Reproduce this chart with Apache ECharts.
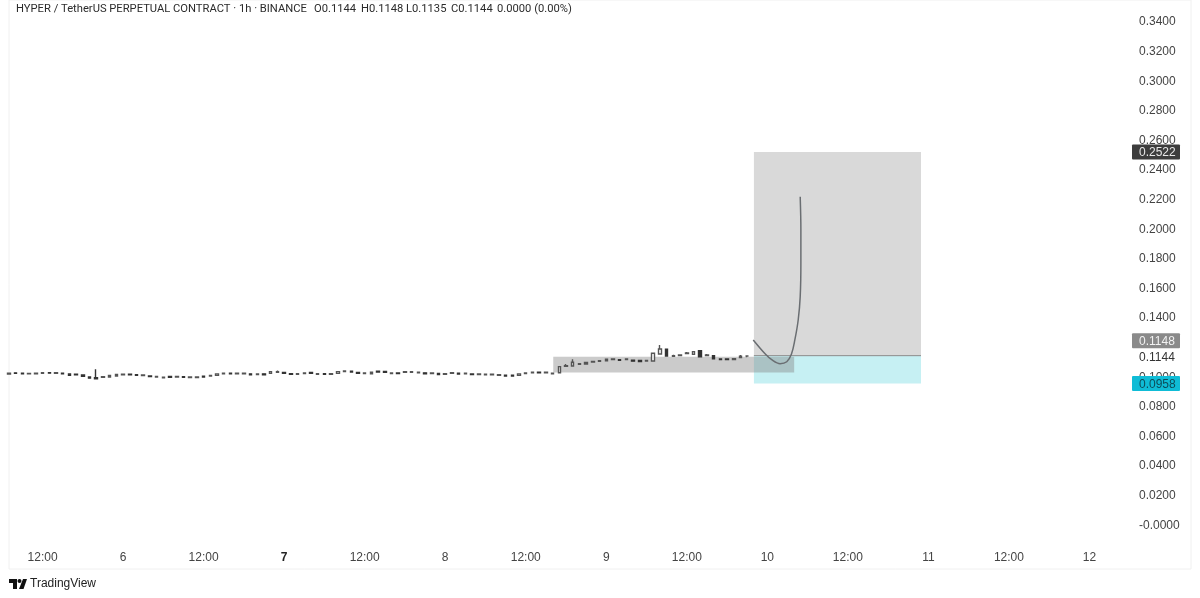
<!DOCTYPE html>
<html><head><meta charset="utf-8">
<style>html,body{margin:0;padding:0;background:#fff}#c{width:1200px;height:598px}</style>
<script src="https://cdn.jsdelivr.net/npm/echarts@6/dist/echarts.min.js"></script>
</head><body><div id="c"></div>
<script>
// hourly candles, first one on the 5th at 07:00
const opens=[.1022,.1030,.1027,.1023,.1023,.1027,.1031,.1027,.1027,.1022,.1020,.1015,.1002,.0997,.1000,.1002,.1009,.1016,.1020,.1018,.1012,.1009,.1002,.0996,.1005,.1002,.1004,.0998,.0998,.1007,.1009,.1013,.1023,.1027,.1023,.1023,.1023,.1018,.1023,.1026,.1034,.1032,.1024,.1020,.1025,.1032,.1020,.1024,.1020,.1026,.1039,.1041,.1032,.1025,.1024,.1041,.1039,.1025,.1029,.1034,.1034,.1030,.1030,.1025,.1025,.1020,.1027,.1028,.1023,.1022,.1018,.1016,.1016,.1014,.1014,.1014,.1013,.1025,.1030,.1034,.1030,.1023,.1031,.1074,.1076,.1088,.1090,.1103,.1108,.1112,.1120,.1119,.1120,.1115,.1113,.1110,.1110,.1157,.1189,.1142,.1147,.1160,.1155,.1180,.1147,.1146,.1124,.1124,.1119,.1134,.1144];
const closes=[.1028,.1027,.1024,.1026,.1027,.1031,.1028,.1031,.1023,.1014,.1016,.1007,.0994,.0989,.1004,.1012,.1019,.1020,.1016,.1014,.1016,.1005,.1006,.1000,.0999,.1006,.1000,.1002,.1002,.1001,.1013,.1023,.1027,.1023,.1027,.1027,.1017,.1022,.1017,.1038,.1038,.1026,.1020,.1024,.1029,.1026,.1024,.1020,.1024,.1038,.1043,.1035,.1026,.1029,.1034,.1035,.1033,.1029,.1025,.1038,.1038,.1034,.1024,.1029,.1019,.1024,.1031,.1022,.1027,.1018,.1022,.1020,.1020,.1018,.1008,.1008,.1023,.1029,.1034,.1030,.1034,.1027,.1072,.1078,.1101,.1092,.1100,.1107,.1112,.1122,.1124,.1115,.1124,.1109,.1107,.1114,.1162,.1191,.1144,.1146,.1151,.1164,.1173,.1139,.1151,.1124,.1120,.1120,.1125,.1143,.1144];
const lows=[.1020,.1026,.1023,.1021,.1022,.1026,.1027,.1026,.1022,.1013,.1015,.1006,.0993,.0988,.0999,.1001,.1008,.1015,.1015,.1013,.1011,.1004,.1001,.0995,.0998,.1001,.0999,.0997,.0997,.1000,.1008,.1012,.1022,.1022,.1022,.1022,.1016,.1017,.1016,.1025,.1033,.1025,.1019,.1019,.1024,.1025,.1019,.1019,.1019,.1025,.1038,.1034,.1025,.1024,.1023,.1034,.1032,.1024,.1024,.1033,.1033,.1029,.1023,.1024,.1018,.1019,.1026,.1021,.1022,.1017,.1017,.1015,.1015,.1013,.1007,.1007,.1012,.1024,.1029,.1029,.1029,.1022,.1030,.1073,.1075,.1087,.1089,.1102,.1107,.1111,.1119,.1114,.1119,.1108,.1106,.1109,.1109,.1156,.1143,.1141,.1146,.1159,.1154,.1138,.1146,.1123,.1119,.1119,.1118,.1133,.1135];
const highs=[.1030,.1031,.1028,.1027,.1028,.1032,.1032,.1032,.1028,.1023,.1021,.1016,.1003,.1054,.1005,.1013,.1020,.1021,.1021,.1019,.1017,.1010,.1007,.1001,.1006,.1007,.1005,.1003,.1006,.1008,.1014,.1024,.1028,.1028,.1028,.1028,.1024,.1023,.1024,.1040,.1045,.1033,.1025,.1025,.1030,.1033,.1025,.1025,.1025,.1039,.1044,.1042,.1033,.1030,.1035,.1042,.1040,.1030,.1030,.1039,.1039,.1035,.1031,.1030,.1026,.1025,.1036,.1029,.1028,.1023,.1023,.1021,.1025,.1019,.1015,.1015,.1024,.1030,.1035,.1035,.1035,.1028,.1073,.1090,.1122,.1093,.1101,.1108,.1113,.1123,.1125,.1120,.1125,.1116,.1114,.1115,.1163,.1218,.1190,.1152,.1152,.1170,.1174,.1181,.1157,.1147,.1125,.1125,.1126,.1150,.1148];

const startDay=5, startHour=7, hourCount=167, boldDay=7;
const priceTicks=[.34,.32,.30,.28,.26,.24,.22,.20,.18,.16,.14,.10,.08,.06,.04,.02,0];

// drawings: [first hour, last hour, lower price, upper price]
const targetBox=[111,135.9,.1146,.2522];
const stopBox=[111,135.9,.0958,.1146];
const rangeBox=[81.1,117,.1032,.1139];
const entryLineHours=[111,135.9];
const entryLinePrice=.1146;
const curveHours=[110.9,112.7,113.7,114.9,115.9,116.6,117.1,117.6,117.9,118.0,118.0,117.9];
const curvePrices=[.1252,.1157,.1117,.1092,.1105,.1157,.1252,.1387,.1545,.1772,.1995,.2220];

// price scale tags: [placed at price, text]
const darkTag=[.2522,'0.2522'];
const greyTag=[.1247,'0.1148'];
const plainTag=[.1138,'0.1144'];
const cyanTag=[.0958,'0.0958'];

const headerName='HYPER / TetherUS PERPETUAL CONTRACT · 1h · BINANCE';
const headerValues=['O0.1144','H0.1148','L0.1135','C0.1144','0.0000 (0.00%)'];
const brand='TradingView';

const FONT='"Liberation Sans", Arimo, sans-serif';
const HEAD='11.2px Roboto, "Liberation Sans", sans-serif';
const cats=[];
for(let i=0;i<hourCount;i++){const t=startHour+i;cats.push({day:startDay+Math.floor(t/24),hour:t%24});}
const catNames=cats.map(c=>c.day+' '+c.hour);
const candles=opens.map((o,i)=>[o,closes[i],lows[i],highs[i]]);

function boxSeries(box,color,z){
  return {type:'custom',xAxisIndex:1,yAxisIndex:0,z,silent:true,clip:false,data:[box],
    renderItem(p,api){
      const a=api.coord([api.value(0),api.value(3)]),b=api.coord([api.value(1),api.value(2)]);
      return {type:'rect',shape:{x:a[0],y:a[1],width:b[0]-a[0],height:b[1]-a[1]},style:{fill:color}};
    },encode:{x:[0,1],y:[2,3]}};
}
function tagSeries(tag,bg,fg){
  return {type:'custom',xAxisIndex:1,yAxisIndex:0,z:20,silent:true,clip:false,data:[[0,tag[0]]],
    renderItem(p,api){
      const y=api.coord([0,api.value(1)])[1],gx=api.coord([166,0])[0]+9;
      return {type:'group',children:[
        {type:'rect',shape:{x:gx,y:y-7.5,width:48,height:15,r:1},style:{fill:bg}},
        {type:'text',style:{x:gx+7,y:y+1,text:tag[1],fill:fg,font:'12px '+FONT,verticalAlign:'middle',align:'left'}}
      ]};
    },encode:{y:1}};
}

const chart=echarts.init(document.getElementById('c'),null,{renderer:'canvas'});
chart.setOption({
  animation:false,backgroundColor:'#fff',
  grid:{left:9,right:77,top:22,height:503.3,containLabel:false},
  xAxis:[{type:'category',data:catNames,boundaryGap:false,axisLine:{show:false},axisTick:{show:false},splitLine:{show:false},
    axisLabel:{margin:26,hideOverlap:false,fontFamily:FONT,fontSize:12,color:'#444',
      interval:(i)=>cats[i].hour===12||cats[i].hour===0,
      formatter:(v,i)=>{const c=cats[i];if(c.hour===12)return '12:00';if(c.hour!==0)return '';return c.day===boldDay?'{b|'+c.day+'}':String(c.day);},
      rich:{b:{fontWeight:'bold',fontFamily:FONT,fontSize:12,color:'#222'}}}},
    {type:'value',min:0,max:166,show:false}],
  yAxis:{type:'value',position:'right',min:0,max:.34,interval:.02,axisLine:{show:false},axisTick:{show:false},splitLine:{show:false},
    axisLabel:{margin:16,align:'left',padding:[2,0,0,0],fontFamily:FONT,fontSize:12,color:'#444',
      formatter:v=>{const k=priceTicks.find(t=>Math.abs(t-v)<1e-6);if(k===undefined)return '';return k===0?'-0.0000':k.toFixed(4);}}},
  series:[
    boxSeries(targetBox,'#d9d9d9',1),
    boxSeries(stopBox,'#c6f0f3',1),
    boxSeries(rangeBox,'rgba(130,130,130,0.42)',2),
    {type:'line',xAxisIndex:1,z:3,silent:true,showSymbol:false,lineStyle:{color:'#8a8a8a',width:1},
      data:entryLineHours.map(h=>[h,entryLinePrice])},
    {type:'candlestick',xAxisIndex:0,z:4,silent:true,clip:true,barWidth:3,data:candles,
      itemStyle:{color:'#fff',color0:'#333',borderColor:'#555',borderColor0:'#333',borderWidth:1.4}},
    {type:'line',xAxisIndex:1,z:5,silent:true,smooth:0.35,showSymbol:false,lineStyle:{color:'#6a6e72',width:1.5},
      data:curveHours.map((h,i)=>[h,curvePrices[i]])},
    tagSeries(darkTag,'#3d3d3d','#e8e8e8'),
    tagSeries(greyTag,'#8a8a8a','#f2f2f2'),
    tagSeries(plainTag,'rgba(255,255,255,0)','#333'),
    tagSeries(cyanTag,'#0fbcd6','#0d4d5a')
  ],
  graphic:[
    {type:'rect',silent:true,shape:{x:9,y:0,width:1182,height:569},style:{fill:'none',stroke:'#f0f0f0',lineWidth:1}},
    {type:'text',left:16,top:4,style:{text:headerName,font:HEAD,fill:'#2b2b2b'}},
    {type:'text',left:314,top:4,style:{text:headerValues[0],font:HEAD,fill:'#2b2b2b'}},
    {type:'text',left:361,top:4,style:{text:headerValues[1],font:HEAD,fill:'#2b2b2b'}},
    {type:'text',left:406,top:4,style:{text:headerValues[2],font:HEAD,fill:'#2b2b2b'}},
    {type:'text',left:451,top:4,style:{text:headerValues[3],font:HEAD,fill:'#2b2b2b'}},
    {type:'text',left:497,top:4,style:{text:headerValues[4],font:HEAD,fill:'#2b2b2b'}},
    {type:'polygon',silent:true,shape:{points:[[9,579],[17,579],[17,589],[13,589],[13,583],[9,583]]},style:{fill:'#111'}},
    {type:'circle',silent:true,shape:{cx:19.5,cy:581,r:2},style:{fill:'#111'}},
    {type:'polygon',silent:true,shape:{points:[[23,579],[27,579],[23.5,589],[19,589]]},style:{fill:'#111'}},
    {type:'text',left:30,top:578,style:{text:brand,font:'12px '+FONT,fill:'#222'}}
  ]
});
</script></body></html>
